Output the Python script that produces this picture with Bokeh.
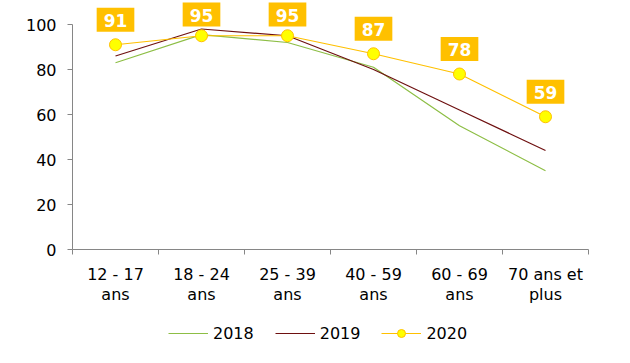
from bokeh.plotting import figure
from bokeh.models import Range1d, FixedTicker, Legend, LegendItem, ColumnDataSource
from bokeh.layouts import column
from bokeh.core.properties import value
from bokeh.embed import file_html
from bokeh.resources import INLINE

categories = ["12 - 17\nans", "18 - 24\nans", "25 - 39\nans", "40 - 59\nans", "60 - 69\nans", "70 ans et\nplus"]
s2018 = [83, 95.5, 92, 81, 55, 35]
s2019 = [86, 98, 95, 80, 62, 44]
s2020 = [91, 95, 95, 87, 78, 59]
y_ticks = [0, 20, 40, 60, 80, 100]
series_names = ["2018", "2019", "2020"]

xs = [i + 0.5 for i in range(len(categories))]

FONT = "DejaVu Sans"
GREEN, DARKRED, GOLD, YELLOW = "#8DBE45", "#6E1010", "#FFC000", "#FFFF00"
MAIN_H = 316
FRAME_H = 249
PX_PER_UNIT = 2.25
Y_TOP = FRAME_H / PX_PER_UNIT

p = figure(width=630, height=MAIN_H, output_backend="svg", toolbar_location=None,
           x_range=Range1d(0, len(categories)), y_range=Range1d(0, Y_TOP),
           min_border_left=72, min_border_right=42, min_border_top=0,
           min_border_bottom=MAIN_H - FRAME_H)
p.outline_line_color = None
p.grid.grid_line_color = None

# x axis
p.xaxis.ticker = FixedTicker(ticks=xs, minor_ticks=list(range(len(categories) + 1)))
p.xaxis.major_label_overrides = {x: c for x, c in zip(xs, categories)}
p.xaxis.major_tick_line_color = None
p.xaxis.minor_tick_line_color = "#868686"
p.xaxis.minor_tick_in = 0
p.xaxis.minor_tick_out = 5
p.xaxis.axis_line_color = "#868686"
p.xaxis.major_label_text_font = FONT
p.xaxis.major_label_text_font_size = "16px"
p.xaxis.major_label_text_line_height = 1.1
p.xaxis.major_label_text_color = "black"
p.xaxis.major_label_standoff = 9

# y axis
p.yaxis.ticker = FixedTicker(ticks=y_ticks)
p.yaxis.bounds = (0, 100)
p.yaxis.minor_tick_line_color = None
p.yaxis.major_tick_line_color = "#868686"
p.yaxis.major_tick_in = 0
p.yaxis.major_tick_out = 5
p.yaxis.axis_line_color = "#868686"
p.yaxis.major_label_text_font = FONT
p.yaxis.major_label_text_font_size = "16px"
p.yaxis.major_label_text_color = "black"
p.yaxis.major_label_standoff = 11

# label centre: 25px above the point, but kept inside the top of the chart
lab_y = [min(v + 25 / PX_PER_UNIT, Y_TOP - 14 / PX_PER_UNIT) for v in s2020]

src = ColumnDataSource(dict(x=xs, s2018=s2018, s2019=s2019, s2020=s2020,
                            lab=[str(v) for v in s2020], lab_y=lab_y))

p.text("x", "lab_y", text="lab", source=src, text_font=value(FONT),
       text_font_style="bold", text_font_size="17px", text_color="white",
       text_align="center", text_baseline="middle",
       background_fill_color=GOLD,
       padding=dict(left=7, right=7, top=6, bottom=5))

p.line("x", "s2018", source=src, line_color=GREEN, line_width=1.2)
p.line("x", "s2019", source=src, line_color=DARKRED, line_width=1.2)
p.line("x", "s2020", source=src, line_color=GOLD, line_width=1.2)
p.scatter("x", "s2020", source=src, size=12, fill_color=YELLOW,
          line_color=GOLD, line_width=1)

# legend strip: same series, drawn outside this strip's visible range
lg = figure(width=630, height=363 - MAIN_H, output_backend="svg", toolbar_location=None,
            x_range=Range1d(0, 1), y_range=Range1d(1000, 1001),
            x_axis_type=None, y_axis_type=None,
            min_border_left=0, min_border_right=0, min_border_top=0, min_border_bottom=0)
lg.grid.grid_line_color = None
lg.outline_line_color = None
e1 = lg.line("x", "s2018", source=src, line_color=GREEN, line_width=1.2)
e2 = lg.line("x", "s2019", source=src, line_color=DARKRED, line_width=1.2)
e3 = lg.line("x", "s2020", source=src, line_color=GOLD, line_width=1.2)
e4 = lg.scatter("x", "s2020", source=src, size=12, fill_color=YELLOW,
                line_color=GOLD, line_width=1)
legend = Legend(items=[LegendItem(label=series_names[0], renderers=[e1]),
                       LegendItem(label=series_names[1], renderers=[e2]),
                       LegendItem(label=series_names[2], renderers=[e3, e4])],
                orientation="horizontal", location=(96, 20),
                label_text_font=FONT, label_text_font_size="16px",
                label_text_color="black", glyph_width=40, glyph_height=20,
                label_height=20, label_standoff=5, spacing=21,
                border_line_color=None, background_fill_alpha=0,
                margin=0, padding=0)
lg.add_layout(legend, "center")

layout = column(p, lg, spacing=0)
open("out.html", "w").write(file_html(layout, INLINE))
